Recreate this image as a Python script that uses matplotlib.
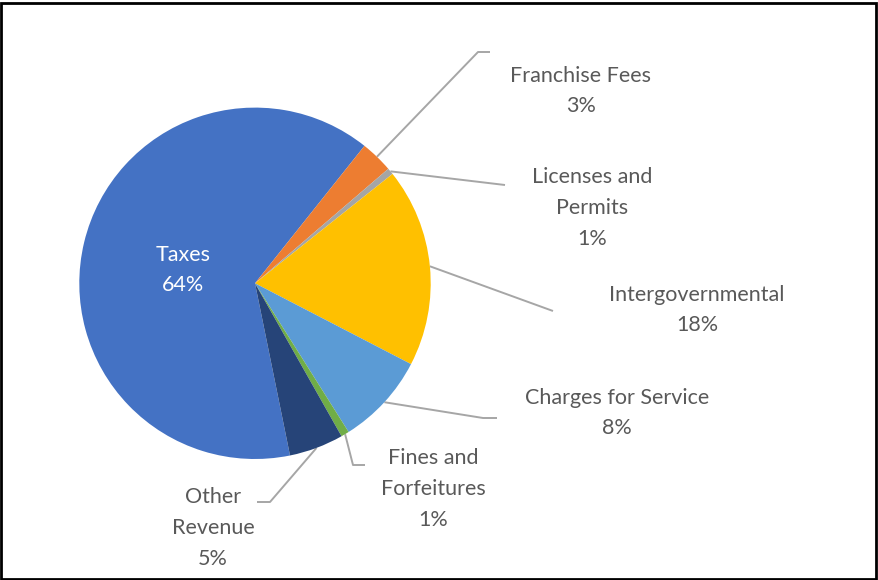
import numpy as np
import matplotlib.pyplot as plt
from matplotlib.patches import Rectangle

plt.rcParams['font.family'] = ['Lato', 'DejaVu Sans']

# revenue shares (percent)
categories = ["Taxes", "Franchise Fees", "Licenses and\nPermits", "Intergovernmental",
              "Charges for Service", "Fines and\nForfeitures", "Other\nRevenue"]
shares = [63.9, 3.0, 0.6, 18.3, 8.45, 0.75, 5.0]
colors = ["#4472C4", "#ED7D31", "#A5A5A5", "#FFC000", "#5B9BD5", "#70AD47", "#264478"]

# label anchors and leader elbows in pixel space (y measured from the top)
label_pos = [(183, 270), (581, 91), (592, 208), (697, 310), (617, 413), (433, 489), (213, 528)]
leaders = [None,
           [(478, 52), (490, 52)],
           [(505, 185)],
           [(553, 311)],
           [(483, 418), (497, 418)],
           [(353, 465), (365, 465)],
           [(270, 502), (257, 502)]]

W, H = 879, 580
cx, cy, R = 255, 283.3, 175.7
start = 168.5  # degrees clockwise from 12 o'clock

fig = plt.figure(figsize=(W / 100, H / 100), dpi=100)
ax = fig.add_axes([0, 0, 1, 1])

ax.pie(shares, colors=colors, startangle=90 - start, counterclock=False,
       radius=R, center=(cx, H - cy), frame=True,
       wedgeprops=dict(linewidth=0))
ax.set_xlim(0, W)
ax.set_ylim(0, H)
ax.set_aspect('equal')
ax.axis('off')

total = sum(shares)
acc = start
for i, (name, v) in enumerate(zip(categories, shares)):
    span = v / total * 360
    mid = np.radians(acc + span / 2)
    acc += span
    txt = f"{name}\n{v / total * 100:.0f}%"
    lx, ly = label_pos[i]
    col = "white" if i == 0 else "#595959"
    ax.text(lx, H - ly, txt, ha='center', va='center', fontsize=15.5,
            color=col, linespacing=1.68)
    if leaders[i] is None:
        continue
    sx, sy = cx + R * np.sin(mid), cy - R * np.cos(mid)
    pts = [(sx, sy)] + leaders[i]
    ax.plot([p[0] for p in pts], [H - p[1] for p in pts],
            color="#A6A6A6", lw=1.4, solid_capstyle='butt', zorder=0)

fig.patches.append(Rectangle((1.5 / W, 1.5 / H), (W - 4) / W, (H - 4) / H,
                             transform=fig.transFigure, fill=False,
                             edgecolor="black", linewidth=2))

fig.savefig("out.png", dpi=100)
